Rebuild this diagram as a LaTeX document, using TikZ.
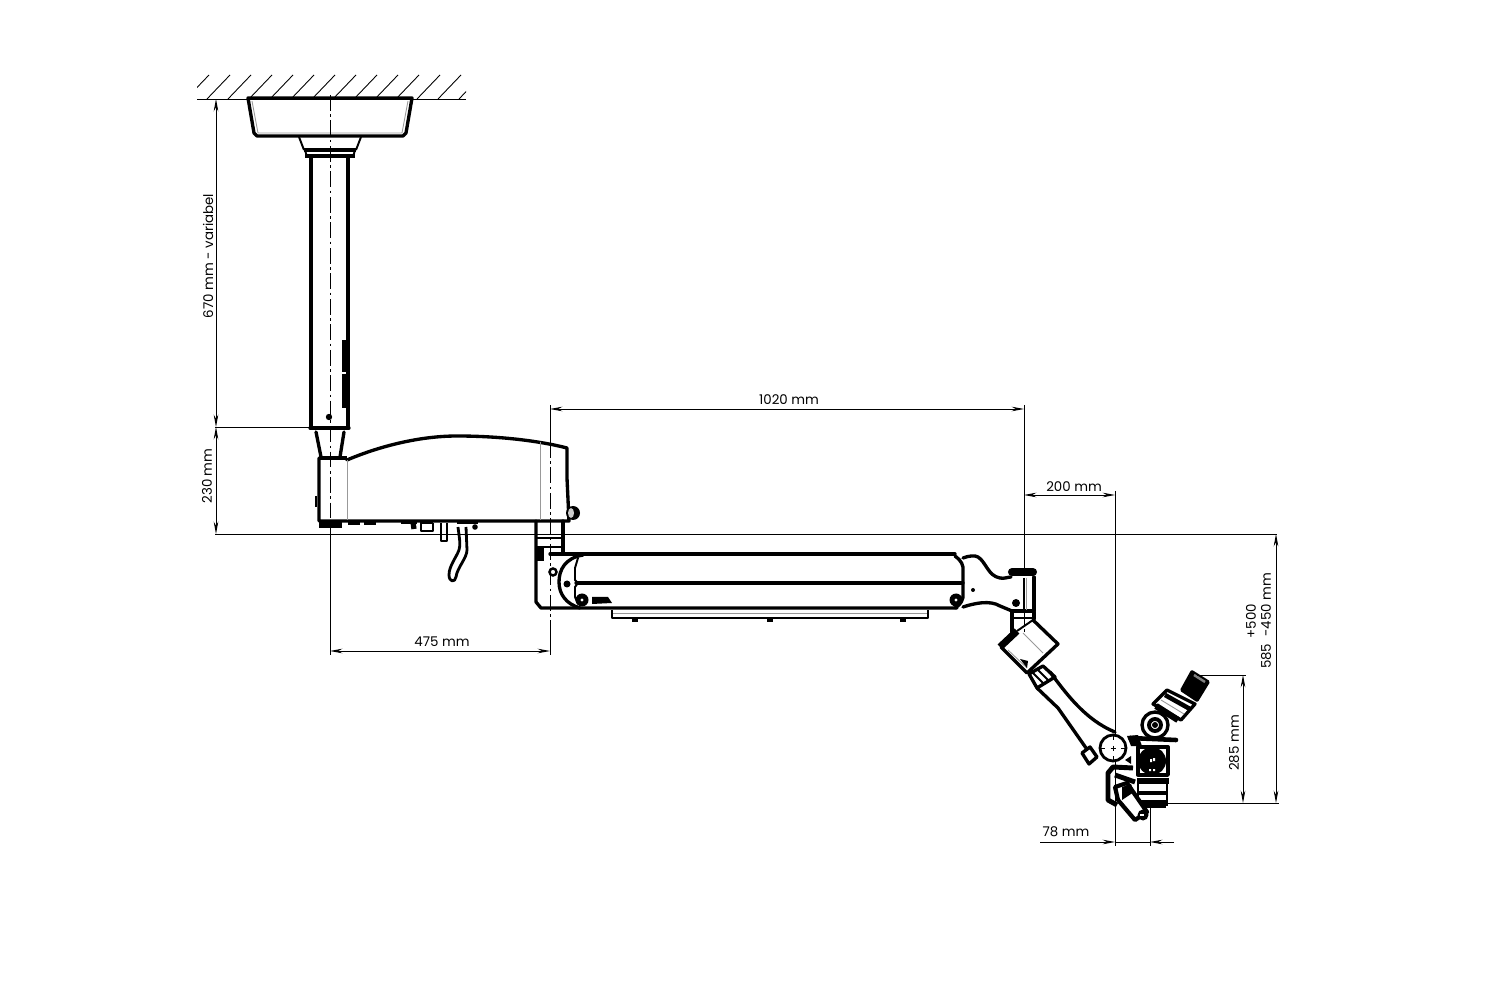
\documentclass[tikz,border=0pt]{standalone}
\usepackage{fontspec}
\setmainfont{Poppins}
\usepackage{tikz}
\usetikzlibrary{arrows.meta,calc}
\newcommand{\heavy}{1.9pt}
\newcommand{\hair}{0.5pt}
\tikzset{
  outl/.style={line width=\heavy,line join=round,line cap=round},
  midl/.style={line width=1.1pt,line join=round},
  graylin/.style={line width=0.5pt,gray!80},
  dimline/.style={line width=\hair,{Stealth[length=7pt,width=2.6pt]}-{Stealth[length=7pt,width=2.6pt]}},
  tipline/.style={line width=\hair,-{Stealth[length=7pt,width=2.6pt]}},
  extline/.style={line width=\hair},
  centerline/.style={line width=\hair,dash pattern=on 9pt off 2pt on 1.5pt off 2pt},
  dimtext/.style={font=\fontsize{7.6}{9}\selectfont,inner sep=0pt}
}
\begin{document}
\begin{tikzpicture}[x=0.02cm,y=-0.02cm]
\useasboundingbox[fill=white] (0,0) rectangle (1491,982);
% ceiling
\coordinate (ceilL) at (197,99);
\coordinate (ceilR) at (466,99);
\draw[extline] (ceilL) -- (ceilR);
\begin{scope}
\clip (197,75) rectangle (466,99);
\foreach \hx in {186,207,...,480}
  \draw[extline] (\hx,99) -- (\hx+23,75);
\end{scope}
% ceiling plate
\draw[outl] (248,98) -- (412,98) -- (406,133) -- (403,136) -- (257,136) -- (254,133) -- cycle;
\draw[graylin] (252,101) -- (258,133) -- (402,133) -- (408,101);
\draw[midl] (299,137) -- (304,150) (361,137) -- (356,150);
\draw[line width=2.2pt] (304,150) -- (356,150);
\draw[line width=2.2pt] (305,156) -- (355,156);
\draw[midl] (305,150) -- (307,157) (355,150) -- (353,157);
% tube
\draw[outl] (311,157) -- (311,428) (348,157) -- (348,428);
\draw[outl] (310,428) -- (349,428);
\draw[line width=3.4pt] (345,340) -- (345,372);
\draw[line width=2.8pt] (344,374) -- (344,408);
\fill (329,417) circle (3.2);
% taper and housing
\draw[outl] (316,432) -- (321,457) (344,432) -- (340,457);
\draw[line width=2.4pt] (319,458) -- (347,458);
\draw[outl] (319,458) -- (319,521) -- (569,521) -- (567,478) -- (567,448)
  .. controls (540,441) and (500,436) .. (457,436)
  .. controls (420,436) and (380,446) .. (347,460);
\draw[graylin] (347,460) -- (347,520) (540,442) -- (540,520);
% knobs and feet
\fill (573,513) circle (7);
\fill[gray!40] (571,513) ellipse (3 and 5);
\draw[line width=1.5pt] (316,496) -- (316,507);
\draw[line width=4pt] (319,524) -- (342,524);
\draw[line width=2.6pt,dash pattern=on 7pt off 2pt] (348,523) -- (378,523);
\draw[line width=2.6pt] (401,522) -- (417,522) (420,522) -- (433,522) (457,522) -- (478,522);
\draw[line width=3pt] (413,522) -- (414,529);
\draw[midl] (421,523) -- (421,531) -- (433,531) -- (433,523);
\draw[midl] (441,523) -- (441,541) -- (447,541) -- (447,523);
\draw[line width=1.6pt,line join=round] (458,527) .. controls (459,536) and (461,545) .. (459,550)
  .. controls (456,558) and (449,566) .. (449,575) .. controls (449,582) and (455,583) .. (456,577)
  .. controls (457,568) and (467,558) .. (467,550) -- (466,527);
\fill[black] (475,527) circle (2.8);
% column under housing
\draw[outl] (536,521) -- (536,602) -- (541,608) -- (957,608);
\draw[outl] (563,521) -- (563,553);
\draw[line width=1.6pt] (536,538) -- (563,538) (536,547) -- (563,547);
\draw[outl] (550,554) -- (955,554);
\draw[outl] (576,583) -- (963,583);
\fill (536,548) rectangle (544,561);
\draw[outl] (583,555) .. controls (565,558) and (559,570) .. (559,582) .. controls (559,594) and (566,604) .. (580,608);
\draw[midl] (578,558) -- (575,568) -- (575,580) -- (578,583) -- (575,587) -- (575,597) -- (578,604);
\draw[line width=1.4pt,fill=white] (553,572) circle (3.5);
\fill (567,584) circle (3.5);
\fill (582,600) circle (6.5);
\fill[white] (582,600) circle (1.6);
\fill (592,597) -- (608,597) -- (612,603) -- (592,604) -- cycle;
% lower bar
\draw[midl] (612,610) -- (612,618) -- (928,618) -- (928,610);
\draw[graylin] (613,613) -- (927,613);
\foreach \bx in {635,770,903}
  \fill (\bx-3,619) rectangle (\bx+3,622);
% forearm
\draw[outl] (955,556) .. controls (961,560) and (964,566) .. (963,571) -- (963,593) .. controls (964,600) and (960,605) .. (955,608);
\draw[outl] (963,558) .. controls (968,556) and (975,555) .. (978,557)
  .. controls (986,562) and (988,576) .. (1000,578) .. controls (1004,579) and (1008,577) .. (1011,577);
\draw[outl] (963,607) .. controls (975,603) and (990,600) .. (1000,606) -- (1012,611);
\draw[line width=4.6pt,line cap=round] (1012,572) -- (1033,572);
\draw[outl] (1034,577) -- (1034,611) -- (1012,611);
\draw[graylin] (1026,578) -- (1026,610);
\draw[line width=1.3pt] (1024,578) -- (1024,610);
\fill (1016,603) circle (4);
\fill (973,590) circle (2);
\fill (956,600) circle (6.5);
\fill[white] (956,600) circle (1.6);
% joint below forearm
\draw[outl] (1012,612) -- (1012,634) (1034,612) -- (1034,619);
\draw[midl] (1012,618) -- (1034,618);
% tilted box
\draw[outl] (1033,620) -- (1058,644) -- (1027,673) -- (1001,647);
\draw[line width=4pt] (1000,647) -- (1017,631);
\draw[midl] (1017,631) -- (1033,620);
\draw[graylin] (1023,633) -- (1043,653) (1008,650) -- (1027,668);
\fill (1020,659) -- (1028,661) -- (1027,668) -- cycle;
% ring block
\draw[outl] (1029,674) -- (1043,666) -- (1055,677) -- (1037,688) -- cycle;
\draw[midl] (1033,673) -- (1043,683) (1038,670) -- (1048,680);
% curved arm
\draw[outl] (1050,672) .. controls (1065,692) and (1085,720) .. (1115,732);
\draw[outl] (1037,688) -- (1058,708) -- (1086,748);
% tab and ball
\draw[outl] (1082,753) -- (1090,747) -- (1097,757) -- (1089,764) -- cycle;
\draw[line width=1.6pt,fill=white] (1113,748) circle (13);
\draw[extline,dashed] (1100,748) -- (1127,748) (1113,735) -- (1113,761);
\fill (1125,760) -- (1131,756) -- (1131,764) -- cycle;
% microscope body
\draw[line width=2.6pt,line cap=round] (1130,738) -- (1176,740);
\fill (1127,736) -- (1138,735) -- (1142,746) -- (1131,746) -- cycle;
\draw[outl] (1138,747) rectangle (1168,775);
\fill (1152,761) circle (14);
\fill[white] (1150,759) rectangle (1152,762) (1153,758) rectangle (1155,761);
\fill[white] (1149,769) rectangle (1151,771) (1153,769) rectangle (1155,771);
% binocular tube
\draw[outl,fill=white] (1153,704) -- (1167,690) -- (1195,704) -- (1181,720) -- cycle;
\draw[line width=3.6pt] (1156,706) -- (1178,720);
\draw[line width=2.6pt] (1165,695) -- (1190,709);
\draw[graylin] (1161,700) -- (1184,714);
% upper circle
\draw[outl,fill=white] (1155,725) circle (13);
\draw[line width=2.2pt] (1155,725) circle (6);
\fill (1155,725) circle (3);
% eyepiece
\draw[line width=2pt,line join=round,fill=black] (1182,690) -- (1192,672) -- (1208,682) -- (1197,700) -- cycle;
\draw[gray,line width=1.4pt] (1194,675) -- (1205,682);
% lower body
\draw[midl] (1138,778) -- (1138,806) (1167,778) -- (1167,806);
\draw[line width=3pt] (1138,781) -- (1169,781);
\draw[line width=2.6pt] (1138,793) -- (1168,793);
\draw[line width=4.4pt] (1141,804) -- (1166,804);
% bracket
\draw[line width=2.8pt,line join=round] (1133,768) -- (1113,767) -- (1108,773) -- (1108,800) -- (1117,805);
\draw[line width=2.8pt] (1115,775) -- (1135,782);
% handle
\draw[line width=2.4pt,fill=white,line join=round] (1118,800) -- (1115,787) -- (1127,783) -- (1147,812) -- (1135,820) -- cycle;
\fill (1122,787) -- (1131,784) -- (1134,792) -- (1122,800) -- cycle;
\fill (1143,815) circle (5.5);
\fill[white] (1140,814) rectangle (1144,816);
% dimension coordinates
\coordinate (d670a) at (216,99);
\coordinate (d670b) at (216,427);
\coordinate (d230b) at (216,534);
\coordinate (baseL) at (215,534);
\coordinate (baseR) at (1277,534);
\coordinate (d1020a) at (550,409);
\coordinate (d1020b) at (1024,409);
\coordinate (d200a) at (1024,495);
\coordinate (d200b) at (1115,495);
\coordinate (d475a) at (330,651);
\coordinate (d475b) at (550,651);
\coordinate (d78a) at (1040,842);
\coordinate (d78b) at (1115,842);
\coordinate (d78c) at (1150,842);
\coordinate (d78d) at (1174,842);
\coordinate (d285a) at (1243,675);
\coordinate (d285b) at (1243,803);
\coordinate (d585a) at (1276,534);
\coordinate (d585b) at (1276,803);
% extension lines
\draw[extline] (baseL) -- (baseR);
\draw[extline] (215,427) -- (311,427);
\draw[centerline] (330,95) -- (330,524);
\draw[extline] (330,524) -- (330,655);
\draw[extline] (550,405) -- (550,442);
\draw[centerline] (550,442) -- (550,622);
\draw[extline] (550,622) -- (550,655);
\draw[extline] (1024,405) -- (1024,575);
\draw[centerline] (1024,610) -- (1024,632);
\draw[extline] (1115,491) -- (1115,735);
\draw[extline] (1115,762) -- (1115,846);
\draw[extline] (1150,806) -- (1150,846);
\draw[extline] (1197,675) -- (1246,675);
\draw[extline] (1165,803) -- (1279,803);
% dimensions
\draw[dimline] (d670a) -- (d670b);
\draw[dimline] (d670b) -- (d230b);
\draw[dimline] (d1020a) -- (d1020b);
\draw[dimline] (d200a) -- (d200b);
\draw[dimline] (d475a) -- (d475b);
\draw[dimline] (d285a) -- (d285b);
\draw[dimline] (d585a) -- (d585b);
\draw[tipline] (d78a) -- (d78b);
\draw[tipline] (d78d) -- (d78c);
\draw[extline] (d78b) -- (d78c);
% labels
\node[dimtext,rotate=90] (l670) at (208,256) {670 mm - variabel};
\node[dimtext,rotate=90] (l230) at (207,476) {230 mm};
\node[dimtext] (l1020) at (789,400) {1020 mm};
\node[dimtext] (l200) at (1074,487) {200 mm};
\node[dimtext] (l475) at (442,642) {475 mm};
\node[dimtext] (l78) at (1066,832) {78 mm};
\node[dimtext,rotate=90] (l285) at (1234,743) {285 mm};
\node[dimtext,rotate=90] (l500) at (1251,621) {+500};
\node[dimtext,rotate=90] (l585) at (1266,621) {585 \ -450 mm};
\end{tikzpicture}
\end{document}
